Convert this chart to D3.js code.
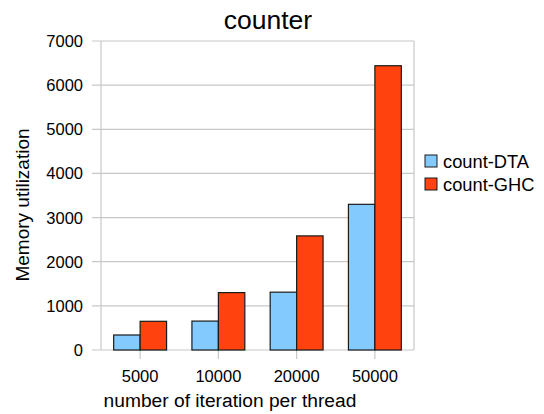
<!DOCTYPE html>
<html><head><meta charset="utf-8">
<script src="https://cdn.jsdelivr.net/npm/d3@7"></script>
<style>body{margin:0;background:#fff}svg{display:block}text{font-family:"Liberation Sans",Arial,sans-serif;fill:#000}</style>
</head><body><svg id="c" width="544" height="414"></svg>
<script>
const categories = ["5000","10000","20000","50000"];
const seriesNames = ["count-DTA","count-GHC"];
const dta = [340, 655, 1310, 3300];
const ghc = [650, 1300, 2585, 6440];
const yTicks = [0,1000,2000,3000,4000,5000,6000,7000];
const colors = ["#83caff","#ff420e"];

const svg = d3.select("#c");
const L=101, R=414, T=41, B=350;
const x = d3.scaleBand().domain(categories).range([L,R]).padding(0);
const y = d3.scaleLinear().domain([0,7000]).range([B,T]);
const bw = x.bandwidth()*0.338;

svg.append("g").selectAll("line").data(yTicks).join("line")
  .attr("x1",L-9).attr("x2",R).attr("y1",d=>y(d)).attr("y2",d=>y(d))
  .attr("stroke","#c8c8c8").attr("stroke-width",1.2);
svg.append("line").attr("x1",L).attr("x2",L).attr("y1",T).attr("y2",B).attr("stroke","#c8c8c8").attr("stroke-width",1.2);
svg.append("line").attr("x1",R).attr("x2",R).attr("y1",T).attr("y2",B).attr("stroke","#c8c8c8").attr("stroke-width",1.2);
svg.append("g").selectAll("line").data(categories).join("line")
  .attr("x1",d=>x(d)+x.bandwidth()/2).attr("x2",d=>x(d)+x.bandwidth()/2)
  .attr("y1",B).attr("y2",B+9).attr("stroke","#c8c8c8").attr("stroke-width",1.2);

const series=[dta,ghc];
series.forEach((vals,si)=>{
  svg.append("g").selectAll("rect").data(vals).join("rect")
    .attr("x",(d,i)=>x(categories[i])+x.bandwidth()/2+(si-1)*bw)
    .attr("y",d=>y(d)).attr("width",bw).attr("height",d=>B-y(d))
    .attr("fill",colors[si]).attr("stroke","#1a1a1a").attr("stroke-width",1.2);
});

svg.append("g").selectAll("text").data(yTicks).join("text")
  .attr("x",83).attr("y",d=>y(d)).attr("dy","0.36em").attr("text-anchor","end")
  .attr("font-size",16.5).text(d=>d);
svg.append("g").selectAll("text").data(categories).join("text")
  .attr("x",d=>x(d)+x.bandwidth()/2).attr("y",382).attr("text-anchor","middle")
  .attr("font-size",16.5).text(d=>d);

svg.append("text").attr("x",268).attr("y",29).attr("text-anchor","middle").attr("font-size",26.5).text("counter");
svg.append("text").attr("x",230).attr("y",407).attr("text-anchor","middle").attr("font-size",19.2).text("number of iteration per thread");
svg.append("text").attr("transform","translate(29,205) rotate(-90)").attr("text-anchor","middle").attr("font-size",19).text("Memory utilization");

const lg = svg.append("g").selectAll("g").data(seriesNames).join("g")
  .attr("transform",(d,i)=>`translate(425,${155+i*23})`);
lg.append("rect").attr("width",12).attr("height",12).attr("fill",(d,i)=>colors[i]).attr("stroke","#1a1a1a").attr("stroke-width",1);
lg.append("text").attr("x",18).attr("y",6).attr("dy","0.36em").attr("font-size",18.3).text(d=>d);
</script></body></html>
